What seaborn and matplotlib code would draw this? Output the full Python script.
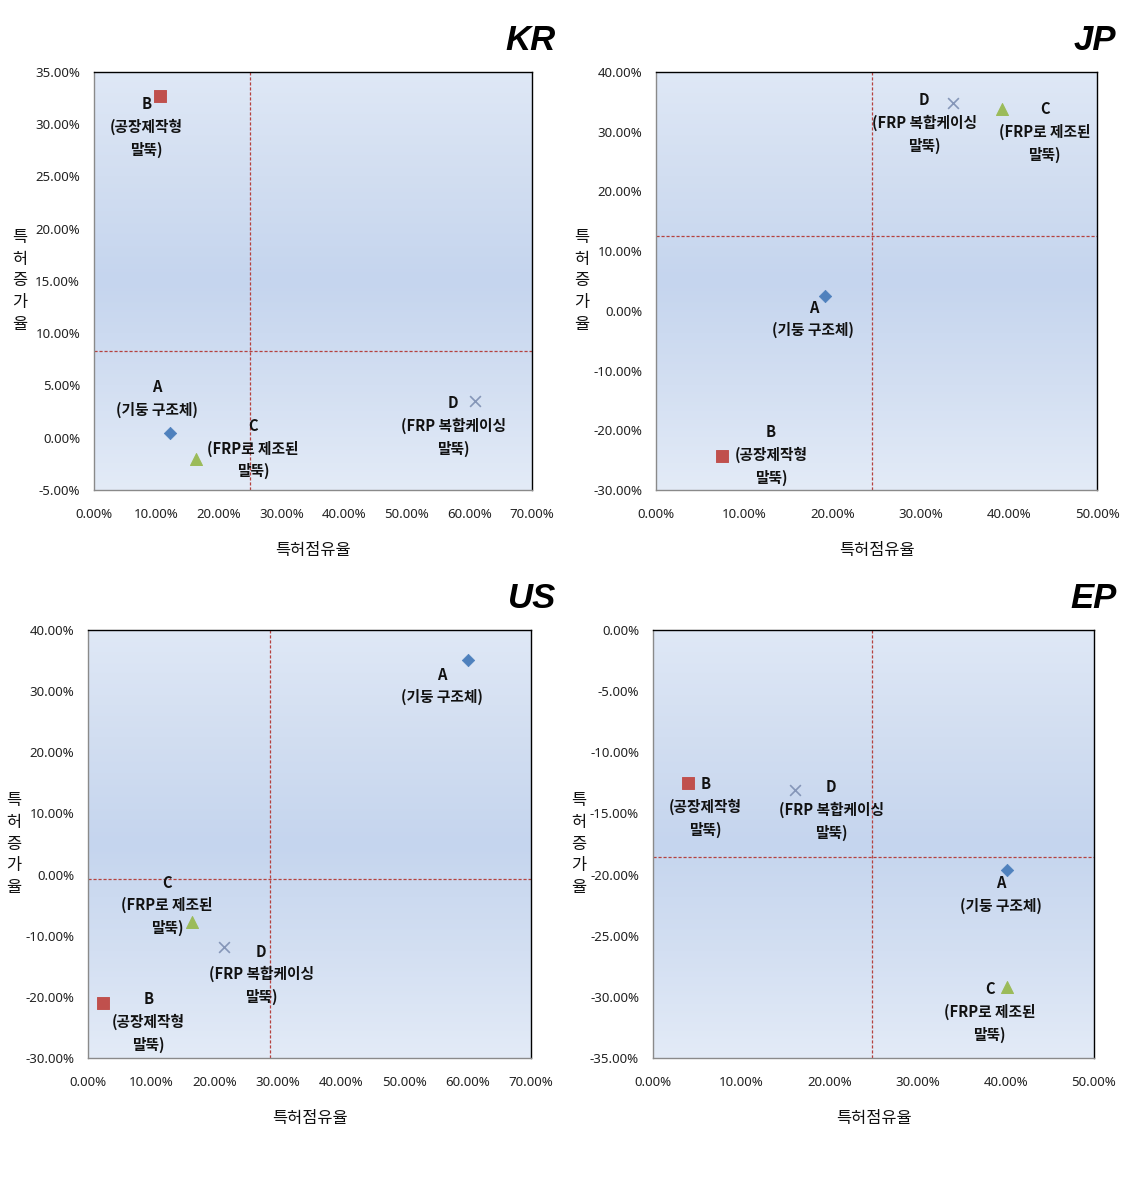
import matplotlib
matplotlib.use("Agg")
import matplotlib.pyplot as plt
import numpy as np
import pandas as pd
import seaborn as sns
from matplotlib.colors import LinearSegmentedColormap
from matplotlib.ticker import MultipleLocator, PercentFormatter

# ───────────────────────── data ──────────────────────────
categories = ["A", "B", "C", "D"]
tech_names = ["(기둥 구조체)", "(공장제작형\n말뚝)", "(FRP로 제조된\n말뚝)", "(FRP 복합케이싱\n말뚝)"]

kr_share = [12.1, 10.5, 16.3, 60.9]
kr_growth = [0.5, 32.7, -2.0, 3.5]
jp_share = [19.2, 7.5, 39.2, 33.7]
jp_growth = [2.5, -24.3, 33.8, 34.8]
us_share = [60.0, 2.4, 16.4, 21.5]
us_growth = [35.1, -21.0, -7.8, -11.9]
ep_share = [40.1, 4.0, 40.1, 16.1]
ep_growth = [-19.6, -12.5, -29.2, -13.1]

# quadrant reference lines (share, growth)
kr_ref = [25.0, 8.3]
jp_ref = [24.5, 12.5]
us_ref = [28.8, -0.75]
ep_ref = [24.8, -18.6]

# ───────────────────────── style ─────────────────────────
W, H = 1146, 1181
colors = {"A": "#4f81bd", "B": "#c0504d", "C": "#9bbb59", "D": "#8596b8"}
markers = {"A": "D", "B": "s", "C": "^", "D": "x"}
sizes = {"A": 40, "B": 70, "C": 75, "D": 60}

panels = [
    # name, share, growth, ref, xlim, xstep, ylim, ystep, axes box px (l, t, r, b), title right px, title top px
    ("KR", kr_share, kr_growth, kr_ref, (0, 70), 10, (-5, 35), 5, (94, 72, 532, 490), 556, 24),
    ("JP", jp_share, jp_growth, jp_ref, (0, 50), 10, (-30, 40), 10, (656, 72, 1097, 490), 1116, 24),
    ("US", us_share, us_growth, us_ref, (0, 70), 10, (-30, 40), 10, (88, 630, 531, 1058), 556, 582),
    ("EP", ep_share, ep_growth, ep_ref, (0, 50), 10, (-35, 0), 5, (653, 630, 1094, 1058), 1117, 582),
]

# label block offsets from marker (px, +down)
label_offsets = {
    "KR": {"A": (-13, -34), "B": (-13, 31), "C": (57, -10), "D": (-22, 25)},
    "JP": {"A": (-12, 23), "B": (49, -1), "C": (43, 23), "D": (-29, 20)},
    "US": {"A": (-26, 26), "B": (45, 19), "C": (-25, -17), "D": (37, 27)},
    "EP": {"A": (-6, 25), "B": (17, 24), "C": (-17, 25), "D": (36, 20)},
}

sns.set_theme(style="white")
plt.rcParams["font.family"] = ["Noto Sans CJK KR", "DejaVu Sans"]
plt.rcParams["axes.unicode_minus"] = False

bg_cmap = LinearSegmentedColormap.from_list(
    "bg", ["#e3ebf7", "#d3dff2", "#c5d5ee", "#d2def1", "#dfe8f6"]
)

fig = plt.figure(figsize=(W / 100, H / 100), dpi=100)
px2pt = 72 / 100

for name, share, growth, ref, xlim, xstep, ylim, ystep, box, t_right, t_top in panels:
    l, t, r, b = box
    ax = fig.add_axes([l / W, 1 - b / H, (r - l) / W, (b - t) / H])

    grad = np.linspace(0, 1, 256).reshape(-1, 1)
    ax.imshow(grad, extent=[0, 1, 0, 1], transform=ax.transAxes, aspect="auto",
              cmap=bg_cmap, origin="lower", zorder=0)

    df = pd.DataFrame({"cat": categories, "share": share, "growth": growth, "label": tech_names})

    ax.axvline(ref[0], color="#b5423f", lw=0.9, ls=(0, (2.5, 1.5)), zorder=2)
    ax.axhline(ref[1], color="#b5423f", lw=0.9, ls=(0, (2.5, 1.5)), zorder=2)

    for _, row in df.iterrows():
        c = row["cat"]
        kw = dict(color=colors[c], s=sizes[c], marker=markers[c], ax=ax, zorder=3, legend=False)
        if markers[c] == "x":
            kw["linewidth"] = 1.2
        else:
            kw["edgecolor"] = colors[c]
        sns.scatterplot(x=[row["share"]], y=[row["growth"]], **kw)
        dx, dy = label_offsets[name][c]
        ax.annotate(f"{c}\n{row['label']}", (row["share"], row["growth"]),
                    xytext=(dx * px2pt, -dy * px2pt), textcoords="offset points",
                    ha="center", va="center", multialignment="center",
                    fontsize=10.6, fontweight="bold", linespacing=1.5,
                    color="#111111", zorder=4)

    ax.set_xlim(*xlim)
    ax.set_ylim(*ylim)
    ax.xaxis.set_major_locator(MultipleLocator(xstep))
    ax.yaxis.set_major_locator(MultipleLocator(ystep))
    ax.xaxis.set_major_formatter(PercentFormatter(xmax=100, decimals=2))
    ax.yaxis.set_major_formatter(PercentFormatter(xmax=100, decimals=2))
    ax.tick_params(axis="both", direction="in", length=4, width=0.8, color="#8a8a8a",
                   labelsize=9.5, labelcolor="#222222")
    ax.tick_params(axis="x", pad=13)
    ax.tick_params(axis="y", pad=10)
    for lab in ax.get_xticklabels() + ax.get_yticklabels():
        lab.set_family("Noto Sans")
    ax.set_xlabel("특허점유율", fontsize=11.8, labelpad=15, color="#111111")
    ax.set_ylabel("")
    ax.annotate("특\n허\n증\n가\n율", (0, 0.5), xycoords="axes fraction",
                xytext=(-74 * px2pt, 0), textcoords="offset points",
                ha="center", va="center", fontsize=11.8, linespacing=1.38, color="#111111")

    for side in ("top", "right"):
        ax.spines[side].set_color("black")
        ax.spines[side].set_linewidth(1.0)
    for side in ("left", "bottom"):
        ax.spines[side].set_color("#8a8a8a")
        ax.spines[side].set_linewidth(1.0)

    fig.text(t_right / W, 1 - t_top / H, name, ha="right", va="top",
             family="Liberation Sans", fontsize=25, fontweight="bold", fontstyle="italic",
             color="black")

fig.savefig("out.png", dpi=100, facecolor="white")
